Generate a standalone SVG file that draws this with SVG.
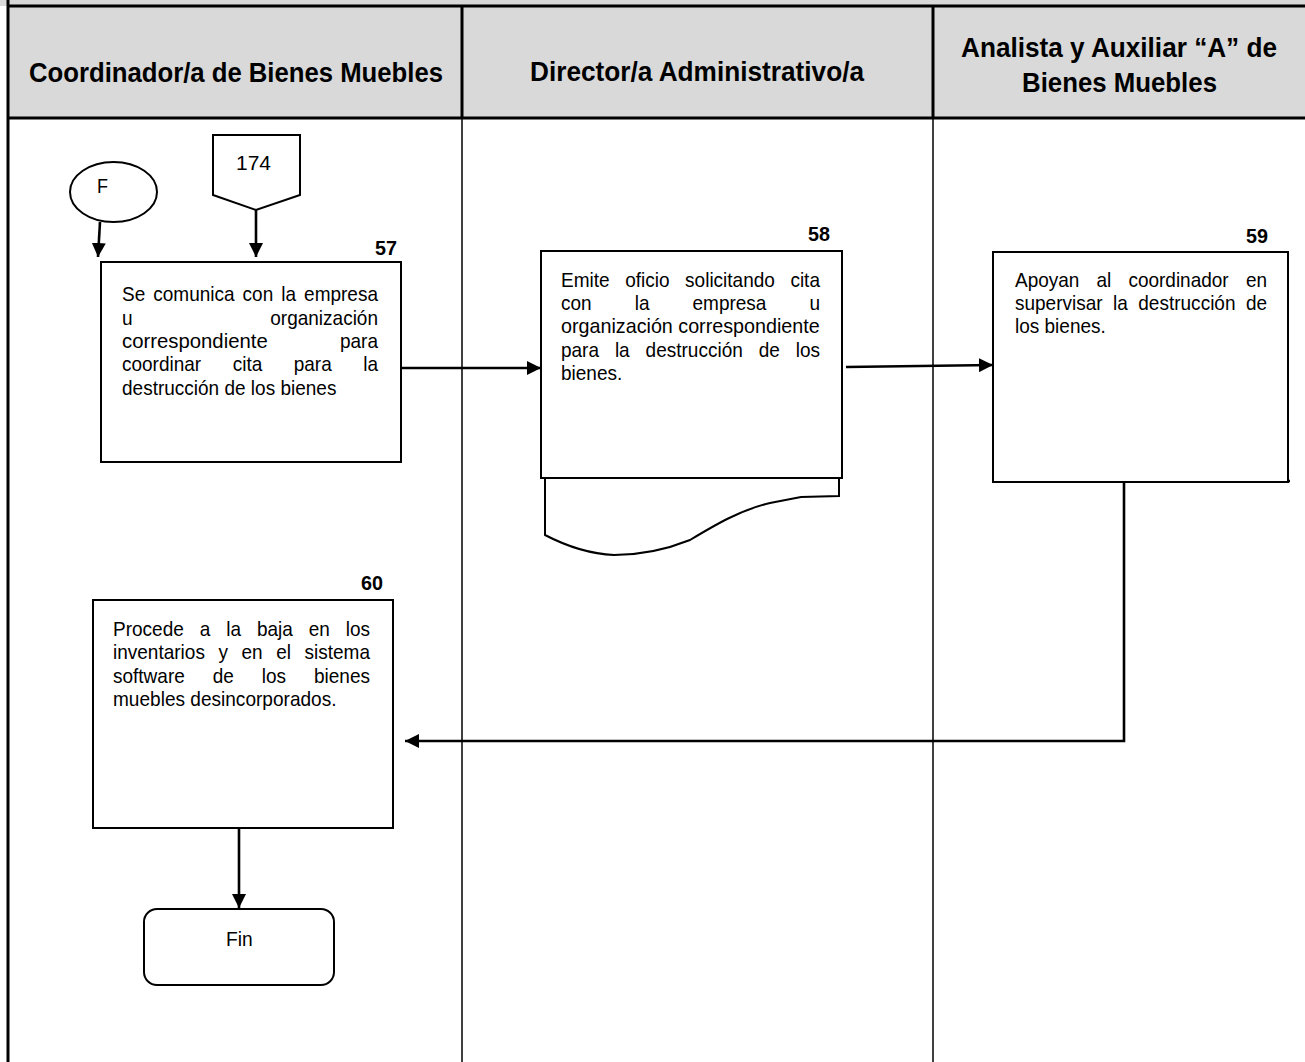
<svg xmlns="http://www.w3.org/2000/svg" width="1305" height="1062" viewBox="0 0 1305 1062">
  <defs>
    <marker id="arrow" viewBox="0 0 14 14" refX="14" refY="7" markerWidth="14" markerHeight="14" markerUnits="userSpaceOnUse" orient="auto">
      <path d="M0,0 L14,7 L0,14 z" fill="#000"/>
    </marker>
    <style>
      .hdr { font-family: "Liberation Sans Narrow", "Liberation Sans", Arial, sans-serif; font-weight: bold; font-size: 28px; fill: #000; }
      .txt { font-family: "Liberation Sans", Arial, sans-serif; font-size: 21px; fill: #000; }
      .num { font-family: "Liberation Sans", Arial, sans-serif; font-weight: bold; font-size: 21px; fill: #000; }
      .box { fill: #fff; stroke: #000; stroke-width: 2; }
      .lane { stroke: #000; stroke-width: 1.5; fill: none; }
      .frame { stroke: #000; stroke-width: 3; fill: none; }
      .conn { stroke: #000; stroke-width: 2.6; fill: none; }
    </style>
  </defs>

  <!-- header band -->
  <rect x="0" y="0" width="1305" height="6" fill="#d9d9d9"/>
  <rect x="8" y="6" width="1297" height="112" fill="#d9d9d9"/>

  <!-- swimlane grid -->
  <g id="lanes">
    <line class="lane" x1="462" y1="118" x2="462" y2="1062"/>
    <line class="lane" x1="933" y1="118" x2="933" y2="1062"/>
    <line class="frame" x1="8" y1="0" x2="8" y2="1062"/>
    <line class="frame" x1="8" y1="6" x2="1305" y2="6"/>
    <line class="frame" x1="8" y1="118" x2="1305" y2="118"/>
    <line class="frame" x1="462" y1="6" x2="462" y2="118"/>
    <line class="frame" x1="933" y1="6" x2="933" y2="118"/>
  </g>

  <g id="lane-titles">
    <text class="hdr" x="29" y="82" textLength="414" lengthAdjust="spacingAndGlyphs">Coordinador/a de Bienes Muebles</text>
    <text class="hdr" x="530" y="81" textLength="334" lengthAdjust="spacingAndGlyphs">Director/a Administrativo/a</text>
    <text class="hdr" x="961" y="57" textLength="316" lengthAdjust="spacingAndGlyphs">Analista y Auxiliar “A” de</text>
    <text class="hdr" x="1022" y="92" textLength="195" lengthAdjust="spacingAndGlyphs">Bienes Muebles</text>
  </g>

  <!-- connectors -->
  <g id="connectors">
    <path class="conn" d="M100,222 L98,257" marker-end="url(#arrow)"/>
    <path class="conn" d="M256,210 V257" marker-end="url(#arrow)"/>
    <path class="conn" d="M401,368 H541" marker-end="url(#arrow)"/>
    <path class="conn" d="M846,367 L993,365" marker-end="url(#arrow)"/>
    <path class="conn" d="M1290,481 H1124 V741 H405" marker-end="url(#arrow)"/>
    <path class="conn" d="M239,828 V908" marker-end="url(#arrow)"/>
  </g>

  <!-- off-page connector F -->
  <g id="node-F">
    <ellipse class="box" cx="113.5" cy="192" rx="43.5" ry="30"/>
    <text class="txt" x="97" y="193" textLength="11" lengthAdjust="spacingAndGlyphs">F</text>
  </g>

  <!-- page reference 174 -->
  <g id="node-174">
    <path class="box" d="M213,135 H300 V195 L256,210 L213,195 Z"/>
    <text class="txt" x="236" y="170" textLength="35" lengthAdjust="spacingAndGlyphs">174</text>
  </g>

  <!-- step 57 -->
  <g id="node-57">
    <rect class="box" x="101" y="262" width="300" height="200"/>
    <text class="num" x="375" y="255" textLength="22" lengthAdjust="spacingAndGlyphs">57</text>
    <text class="txt" x="122" y="301" textLength="23.2" lengthAdjust="spacingAndGlyphs">Se</text>
    <text class="txt" x="153.3" y="301" textLength="81.3" lengthAdjust="spacingAndGlyphs">comunica</text>
    <text class="txt" x="242.6" y="301" textLength="30.6" lengthAdjust="spacingAndGlyphs">con</text>
    <text class="txt" x="281.3" y="301" textLength="14.8" lengthAdjust="spacingAndGlyphs">la</text>
    <text class="txt" x="304.1" y="301" textLength="73.9" lengthAdjust="spacingAndGlyphs">empresa</text>
    <text class="txt" x="122" y="324.5" textLength="10.6" lengthAdjust="spacingAndGlyphs">u</text>
    <text class="txt" x="270.3" y="324.5" textLength="107.7" lengthAdjust="spacingAndGlyphs">organización</text>
    <text class="txt" x="122" y="348" textLength="145.7" lengthAdjust="spacingAndGlyphs">correspondiente</text>
    <text class="txt" x="340" y="348" textLength="38" lengthAdjust="spacingAndGlyphs">para</text>
    <text class="txt" x="122" y="371" textLength="79.2" lengthAdjust="spacingAndGlyphs">coordinar</text>
    <text class="txt" x="232.7" y="371" textLength="29.6" lengthAdjust="spacingAndGlyphs">cita</text>
    <text class="txt" x="293.7" y="371" textLength="38" lengthAdjust="spacingAndGlyphs">para</text>
    <text class="txt" x="363.2" y="371" textLength="14.8" lengthAdjust="spacingAndGlyphs">la</text>
    <text class="txt" x="122" y="394.5" textLength="214.4" lengthAdjust="spacingAndGlyphs">destrucción de los bienes</text>
  </g>

  <!-- step 58: document -->
  <g id="node-58">
    <path class="box" stroke-width="1.6" d="M545,478 V535 C570,548 592,554 614,555 C640,555 665,550 690,540 C715,525 740,510 770,503 L801,497 L839,496 V478 Z"/>
    <rect class="box" x="541" y="251" width="301" height="227"/>
    <text class="num" x="808" y="241" textLength="22" lengthAdjust="spacingAndGlyphs">58</text>
    <text class="txt" x="561" y="286.7" textLength="48.6" lengthAdjust="spacingAndGlyphs">Emite</text>
    <text class="txt" x="625.2" y="286.7" textLength="44.4" lengthAdjust="spacingAndGlyphs">oficio</text>
    <text class="txt" x="685.1" y="286.7" textLength="89.8" lengthAdjust="spacingAndGlyphs">solicitando</text>
    <text class="txt" x="790.4" y="286.7" textLength="29.6" lengthAdjust="spacingAndGlyphs">cita</text>
    <text class="txt" x="561" y="310" textLength="30.6" lengthAdjust="spacingAndGlyphs">con</text>
    <text class="txt" x="634.7" y="310" textLength="14.8" lengthAdjust="spacingAndGlyphs">la</text>
    <text class="txt" x="692.5" y="310" textLength="73.9" lengthAdjust="spacingAndGlyphs">empresa</text>
    <text class="txt" x="809.4" y="310" textLength="10.6" lengthAdjust="spacingAndGlyphs">u</text>
    <text class="txt" x="561" y="333.3" textLength="258.7" lengthAdjust="spacingAndGlyphs">organización correspondiente</text>
    <text class="txt" x="561" y="356.6" textLength="38" lengthAdjust="spacingAndGlyphs">para</text>
    <text class="txt" x="614.9" y="356.6" textLength="14.8" lengthAdjust="spacingAndGlyphs">la</text>
    <text class="txt" x="645.6" y="356.6" textLength="97.2" lengthAdjust="spacingAndGlyphs">destrucción</text>
    <text class="txt" x="758.7" y="356.6" textLength="21.1" lengthAdjust="spacingAndGlyphs">de</text>
    <text class="txt" x="795.7" y="356.6" textLength="24.3" lengthAdjust="spacingAndGlyphs">los</text>
    <text class="txt" x="561" y="380" textLength="61.3" lengthAdjust="spacingAndGlyphs">bienes.</text>
  </g>

  <!-- step 59 -->
  <g id="node-59">
    <rect class="box" x="993" y="252" width="295" height="230"/>
    <text class="num" x="1246" y="243" textLength="22" lengthAdjust="spacingAndGlyphs">59</text>
    <text class="txt" x="1015" y="286.7" textLength="64.4" lengthAdjust="spacingAndGlyphs">Apoyan</text>
    <text class="txt" x="1096.5" y="286.7" textLength="14.8" lengthAdjust="spacingAndGlyphs">al</text>
    <text class="txt" x="1128.4" y="286.7" textLength="100.3" lengthAdjust="spacingAndGlyphs">coordinador</text>
    <text class="txt" x="1245.9" y="286.7" textLength="21.1" lengthAdjust="spacingAndGlyphs">en</text>
    <text class="txt" x="1015" y="310" textLength="87.6" lengthAdjust="spacingAndGlyphs">supervisar</text>
    <text class="txt" x="1113.1" y="310" textLength="14.8" lengthAdjust="spacingAndGlyphs">la</text>
    <text class="txt" x="1138.3" y="310" textLength="97.2" lengthAdjust="spacingAndGlyphs">destrucción</text>
    <text class="txt" x="1245.9" y="310" textLength="21.1" lengthAdjust="spacingAndGlyphs">de</text>
    <text class="txt" x="1015" y="333.3" textLength="90.8" lengthAdjust="spacingAndGlyphs">los bienes.</text>
  </g>

  <!-- step 60 -->
  <g id="node-60">
    <rect class="box" x="93" y="600" width="300" height="228"/>
    <text class="num" x="361" y="590" textLength="22" lengthAdjust="spacingAndGlyphs">60</text>
    <text class="txt" x="113" y="636" textLength="70.8" lengthAdjust="spacingAndGlyphs">Procede</text>
    <text class="txt" x="199.7" y="636" textLength="10.6" lengthAdjust="spacingAndGlyphs">a</text>
    <text class="txt" x="226.2" y="636" textLength="14.8" lengthAdjust="spacingAndGlyphs">la</text>
    <text class="txt" x="256.9" y="636" textLength="35.9" lengthAdjust="spacingAndGlyphs">baja</text>
    <text class="txt" x="308.7" y="636" textLength="21.1" lengthAdjust="spacingAndGlyphs">en</text>
    <text class="txt" x="345.7" y="636" textLength="24.3" lengthAdjust="spacingAndGlyphs">los</text>
    <text class="txt" x="113" y="659.3" textLength="91.9" lengthAdjust="spacingAndGlyphs">inventarios</text>
    <text class="txt" x="218.4" y="659.3" textLength="9.5" lengthAdjust="spacingAndGlyphs">y</text>
    <text class="txt" x="241.5" y="659.3" textLength="21.1" lengthAdjust="spacingAndGlyphs">en</text>
    <text class="txt" x="276.2" y="659.3" textLength="14.8" lengthAdjust="spacingAndGlyphs">el</text>
    <text class="txt" x="304.5" y="659.3" textLength="65.5" lengthAdjust="spacingAndGlyphs">sistema</text>
    <text class="txt" x="113" y="682.6" textLength="71.8" lengthAdjust="spacingAndGlyphs">software</text>
    <text class="txt" x="212.7" y="682.6" textLength="21.1" lengthAdjust="spacingAndGlyphs">de</text>
    <text class="txt" x="261.8" y="682.6" textLength="24.3" lengthAdjust="spacingAndGlyphs">los</text>
    <text class="txt" x="314" y="682.6" textLength="56" lengthAdjust="spacingAndGlyphs">bienes</text>
    <text class="txt" x="113" y="706" textLength="223.5" lengthAdjust="spacingAndGlyphs">muebles desincorporados.</text>
  </g>

  <!-- terminator -->
  <g id="node-fin">
    <rect class="box" x="144" y="909" width="190" height="76" rx="13" ry="13"/>
    <text class="txt" x="226" y="945.5" textLength="26.7" lengthAdjust="spacingAndGlyphs">Fin</text>
  </g>
</svg>
